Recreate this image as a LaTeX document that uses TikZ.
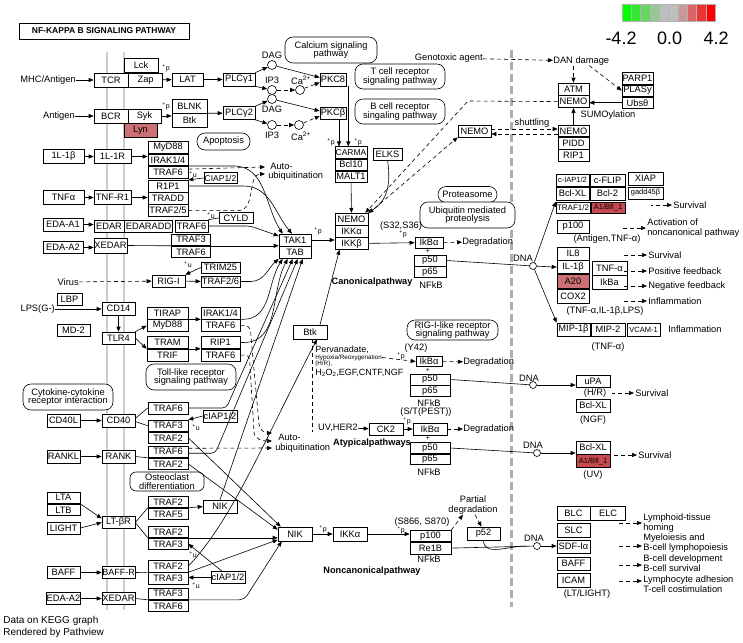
\documentclass[tikz,border=0pt]{standalone}
\usepackage{fontspec}
\setmainfont{Liberation Sans}
\usetikzlibrary{positioning, arrows.meta}

\definecolor{kred}{RGB}{205,112,117}
\definecolor{kredd}{RGB}{198,74,80}
\definecolor{memb}{RGB}{205,205,205}
\definecolor{lg0}{RGB}{0,255,0}
\definecolor{lg1}{RGB}{50,232,50}
\definecolor{lg2}{RGB}{100,214,100}
\definecolor{lg3}{RGB}{150,200,150}
\definecolor{lg4}{RGB}{190,190,190}
\definecolor{lg5}{RGB}{190,190,190}
\definecolor{lg6}{RGB}{205,150,150}
\definecolor{lg7}{RGB}{218,100,100}
\definecolor{lg8}{RGB}{236,50,50}
\definecolor{lg9}{RGB}{255,0,0}
\newcommand{\kfont}{\fontsize{9.3}{10}\selectfont}
\newcommand{\kpw}{\fontsize{9.3}{8.8}\selectfont}
\newcommand{\ksm}{\fontsize{7.5}{8}\selectfont}
\newcommand{\kmod}{\fontsize{7}{7}\selectfont}

\tikzset{
  gene/.style={draw, fill=white, inner sep=0pt, minimum width=40, minimum height=12, font=\kfont},
  redgene/.style={gene, fill=kred},
  pway/.style={draw, fill=white, rounded corners=8pt, align=center, inner sep=1pt, font=\kpw},
  cpd/.style={circle, draw, fill=white, inner sep=0pt, minimum size=9},
  lbl/.style={inner sep=0pt, font=\kfont},
  mod/.style={inner sep=0pt, font=\kmod},
  bold/.style={inner sep=0pt, font=\bfseries\fontsize{9.2}{10}\selectfont},
  dsh/.style={dash pattern=on 4pt off 3pt},
}

\begin{document}
\begin{tikzpicture}[x=1pt, y=-1pt, line width=0.6pt, >={Triangle[length=5pt,width=4pt]}]
\useasboundingbox (0,0) rectangle (743,642);
\draw[memb, line width=2pt] (107,52) -- (107,610) (124,52) -- (124,610);
\draw[memb!85!black, line width=3pt, dash pattern=on 8pt off 4pt] (511,50) -- (511,607);

\foreach \i in {0,...,9}
  \draw[fill=lg\i, draw=gray!60, line width=0.4pt] (622+9.3*\i,4) rectangle ++(9.3,17);
\node[inner sep=0pt, font=\fontsize{18}{18}\selectfont] (lmin) at (621,38) {-4.2};
\node[inner sep=0pt, font=\fontsize{18}{18}\selectfont] (lmid) at (669.5,38) {0.0};
\node[inner sep=0pt, font=\fontsize{18}{18}\selectfont] (lmax) at (716,38) {4.2};

\node[draw, line width=0.8pt, minimum width=170, minimum height=16, inner sep=0pt, font=\bfseries\fontsize{8.5}{10}\selectfont] (title) at (104,31) {NF-KAPPA B SIGNALING PATHWAY};

% T cell / B cell
\node[lbl, anchor=east] (mhc) at (76,80) {MHC/Antigen};
\node[gene, minimum width=34, minimum height=14] (tcr) at (111,80) {TCR};
\node[gene, minimum width=34, minimum height=14, right=0pt of tcr] (zap) {Zap};
\node[gene, minimum width=34, minimum height=14] (lck) at (141,65.5) {Lck};
\node[mod] (plck) at (166,68) {\textsuperscript{+}p};
\node[gene, minimum width=31, minimum height=13] (lat) at (187.5,79.5) {LAT};
\node[gene, minimum width=32, minimum height=13] (plcg1) at (239,79.5) {PLCγ1};
\node[lbl, anchor=east] (antigen) at (75,116) {Antigen};
\node[gene, minimum width=34, minimum height=14] (bcr) at (111,116) {BCR};
\node[gene, minimum width=33, minimum height=14] (syk) at (144.5,116) {Syk};
\node[redgene, minimum width=33, minimum height=14] (lyn) at (140.5,130) {Lyn};
\node[mod] (psyk) at (166,106) {\textsuperscript{+}p};
\node[gene, minimum width=35, minimum height=14] (blnk) at (189.5,106) {BLNK};
\node[gene, minimum width=35, minimum height=14, below=0pt of blnk] (btk) {Btk};
\node[gene, minimum width=32, minimum height=13] (plcg2) at (239,113) {PLCγ2};
\node[pway, minimum width=53, minimum height=17] (apop) at (223.5,141.5) {Apoptosis};

\node[cpd] (dag1) at (272,65) {};
\node[lbl] (dag1t) at (272,55) {DAG};
\node[cpd] (ip3a) at (272,90) {};
\node[lbl] (ip3at) at (272,80) {IP3};
\node[cpd] (ca1) at (300,90) {};
\node[lbl] (ca1t) at (301,80) {Ca\textsuperscript{2+}};
\node[cpd] (dag2) at (272,99) {};
\node[lbl] (dag2t) at (272,109) {DAG};
\node[cpd] (ip3b) at (272,125) {};
\node[lbl] (ip3bt) at (272,135) {IP3};
\node[cpd] (ca2) at (299,125) {};
\node[lbl] (ca2t) at (301,136) {Ca\textsuperscript{2+}};
\node[gene, minimum width=26, minimum height=13] (pkc8) at (333,79.5) {PKC8};
\node[gene, minimum width=26, minimum height=12] (pkcb) at (333,113) {PKCβ};
\node[pway, minimum width=92, minimum height=26] (calc) at (331,50) {Calcium signaling\\pathway};
\node[pway, minimum width=90, minimum height=25] (tcrp) at (400,76.5) {T cell receptor\\signaling pathway};
\node[pway, minimum width=90, minimum height=25] (bcrp) at (400,111.5) {B cell receptor\\singaling pathway};
\node[mod] (pca1) at (331,142) {\textsuperscript{+}p};
\node[mod] (pca2) at (358,142) {\textsuperscript{+}p};
\node[gene, minimum width=32, minimum height=11.5, font=\fontsize{8.5}{9}\selectfont] (carma) at (351,152.5) {CARMA};
\node[gene, minimum width=32, minimum height=11.5, below=0pt of carma] (bcl10) {Bcl10};
\node[gene, minimum width=32, minimum height=11.5, below=0pt of bcl10] (malt1) {MALT1};
\node[gene, minimum width=29, minimum height=12] (elks) at (387.5,154) {ELKS};
\node[gene, minimum width=33, minimum height=11.7] (nemo1) at (351.5,219) {NEMO};
\node[gene, minimum width=33, minimum height=11.7, below=0pt of nemo1] (ikka1) {IKKα};
\node[gene, minimum width=33, minimum height=11.7, below=0pt of ikka1] (ikkb1) {IKKβ};

% IL-1 / TNF / EDA
\node[gene, minimum width=41, minimum height=14] (il1b) at (63.5,156.5) {1L-1β};
\node[gene, minimum width=37, minimum height=14] (il1r) at (112.5,156.5) {1L-1R};
\node[gene, minimum height=11.7] (myd88a) at (168,147.5) {MyD88};
\node[gene, minimum height=11.7, below=0pt of myd88a] (irak1) {IRAK1/4};
\node[gene, minimum height=11.7, below=0pt of irak1] (traf6a) {TRAF6};
\node[gene, minimum width=33, minimum height=11, font=\fontsize{8.5}{9}\selectfont] (ciap1) at (220.5,178) {CIAP1/2};
\node[mod] (uciap1) at (193,175) {\textsuperscript{+}u};
\node[gene, minimum height=11.7] (r1p1) at (168,186) {R1P1};
\node[gene, minimum height=11.7, below=0pt of r1p1] (tradd) {TRADD};
\node[gene, minimum height=11.7, below=0pt of tradd] (traf25) {TRAF2/5};
\node[gene, minimum width=41, minimum height=14] (tnfa) at (63.5,197.5) {TNFα};
\node[gene, minimum width=37, minimum height=14] (tnfr1) at (112.5,197.5) {TNF-R1};
\node[gene, minimum width=40, minimum height=13] (eda1) at (63,224.5) {EDA-A1};
\node[gene, minimum width=30, minimum height=12] (edar) at (109,226) {EDAR};
\node[gene, minimum width=48, minimum height=12, right=0pt of edar] (edaradd) {EDARADD};
\node[gene, minimum width=33, minimum height=12] (traf6b) at (191.5,226) {TRAF6};
\node[gene, minimum width=34, minimum height=11] (cyld) at (236,218) {CYLD};
\node[mod] (ucyld) at (211,216) {\textsuperscript{+}u};
\node[gene, minimum width=40, minimum height=12] (eda2) at (63,247.5) {EDA-A2};
\node[gene, minimum width=33, minimum height=15] (xedar1) at (110.5,245.5) {XEDAR};
\node[gene, minimum width=39, minimum height=11.5] (traf3a) at (191,239.75) {TRAF3};
\node[gene, minimum width=39, minimum height=11.5, below=0pt of traf3a] (traf6c) {TRAF6};
\node[pway, minimum width=59, minimum height=16] (prot) at (467.5,194.5) {Proteasome};
\node[pway, minimum width=95, minimum height=26] (ubip) at (467.5,215) {Ubiquitin mediated\\proteolysis};
\node[lbl, anchor=west] (auto1) at (270,166) {Auto-};
\node[lbl, anchor=west] (ubi1) at (268,176.5) {ubiquitination};
\coordinate (au1) at (265,167);
\coordinate (au2) at (265,174);

% RIG-I / LPS
\node[gene, minimum width=39, minimum height=11] (trim25) at (220.5,267.5) {TRIM25};
\node[mod] (utrim) at (188,265) {\textsuperscript{+}u};
\node[gene, minimum width=33, minimum height=12] (rigi) at (168.5,281) {RIG-I};
\node[gene, minimum width=39, minimum height=11] (traf26) at (220.5,281.5) {TRAF2/6};
\node[lbl, anchor=east] (virus) at (79,282) {Virus};
\node[gene, minimum width=25, minimum height=12] (lbp) at (69.5,299) {LBP};
\node[lbl, anchor=east] (lps) at (55,309) {LPS(G-)};
\node[gene, minimum width=33, minimum height=12] (md2) at (73.5,330) {MD-2};
\node[gene, minimum width=33, minimum height=13] (cd14) at (118.5,308.5) {CD14};
\node[gene, minimum width=33, minimum height=12] (tlr4) at (118.5,338) {TLR4};
\node[gene, minimum width=41] (tirap) at (167.5,313) {TIRAP};
\node[gene, minimum width=41, below=0pt of tirap] (myd88b) {MyD88};
\node[gene, minimum width=41] (tram) at (167.5,342.5) {TRAM};
\node[gene, minimum width=41, below=0pt of tram] (trif) {TRIF};
\node[gene, minimum width=39] (irak2) at (220.5,313) {IRAK1/4};
\node[gene, minimum width=39, below=0pt of irak2] (traf6d) {TRAF6};
\node[gene, minimum width=39] (rip1a) at (220.5,342.5) {RIP1};
\node[gene, minimum width=39, below=0pt of rip1a] (traf6e) {TRAF6};
\node[pway, minimum width=90, minimum height=26] (tollp) at (191,377) {Toll-like receptor\\signaling pathway};
\node[pway, minimum width=90, minimum height=26] (cytop) at (68,397) {Cytokine-cytokine\\receptor interaction};

% CD40 / RANK / LT / BAFF / XEDAR
\node[gene, minimum width=33, minimum height=13] (cd40l) at (63.5,420.5) {CD40L};
\node[gene, minimum width=33, minimum height=13] (cd40) at (118.5,420.5) {CD40};
\node[gene] (traf6f) at (168,408) {TRAF6};
\node[gene, minimum height=11.5] (traf3b) at (168,425.75) {TRAF3};
\node[gene, minimum height=11.5, below=0pt of traf3b] (traf2a) {TRAF2};
\node[gene, minimum width=34, minimum height=12] (ciap2) at (220,416) {cIAP1/2};
\node[mod] (uciap2) at (196,428) {\textsuperscript{+}u};
\node[gene, minimum width=33, minimum height=13] (rankl) at (63.5,456.5) {RANKL};
\node[gene, minimum width=33, minimum height=13] (rank) at (118.5,456.5) {RANK};
\node[gene, minimum height=11.5] (traf6g) at (168,451.75) {TRAF6};
\node[gene, minimum height=11.5, below=0pt of traf6g] (traf2b) {TRAF2};
\node[pway, minimum width=74, minimum height=19, rounded corners=6pt] (osteo) at (167,481.5) {Osteoclast\\differentiation};
\node[gene, minimum width=33, minimum height=11.5] (lta) at (63.5,497.75) {LTA};
\node[gene, minimum width=33, minimum height=11.5, below=0pt of lta] (ltb) {LTB};
\node[gene, minimum width=33, minimum height=12] (light) at (63.5,528) {LIGHT};
\node[gene, minimum width=33, minimum height=12] (ltbr) at (118.5,522.5) {LT-βR};
\node[gene, minimum height=11.5] (traf2c) at (168,501.75) {TRAF2};
\node[gene, minimum height=11.5, below=0pt of traf2c] (traf5) {TRAF5};
\node[gene, minimum width=34, minimum height=13] (nik1) at (220,506.5) {NIK};
\node[gene, minimum height=11.5] (traf2d) at (168,531.75) {TRAF2};
\node[gene, minimum height=11.5, below=0pt of traf2d] (traf3c) {TRAF3};
\node[mod] (ultb) at (193,555) {\textsuperscript{+}u};
\node[gene, minimum width=33, minimum height=12] (baff1) at (63.5,572.5) {BAFF};
\node[gene, minimum width=33, minimum height=12, font=\fontsize{9}{10}\selectfont] (baffr) at (118.5,572.5) {BAFF-R};
\node[gene, minimum height=11.5] (traf2e) at (168,566.25) {TRAF2};
\node[gene, minimum height=11.5, below=0pt of traf2e] (traf3d) {TRAF3};
\node[gene, minimum width=34, minimum height=12] (ciap3) at (228,577.5) {cIAP1/2};
\node[mod] (ubaff) at (196,586) {\textsuperscript{+}u};
\node[gene, minimum width=33, minimum height=12] (eda3) at (63.5,598.5) {EDA-A2};
\node[gene, minimum width=33, minimum height=12] (xedar2) at (118.5,598.5) {XEDAR};
\node[gene, minimum height=11.5] (traf3e) at (168,593.75) {TRAF3};
\node[gene, minimum height=11.5, below=0pt of traf3e] (traf6h) {TRAF6};
\node[lbl, anchor=north west, align=left, font=\fontsize{10}{12}\selectfont] (note) at (3,616) {Data on KEGG graph\\Rendered by Pathview};
\node[lbl, anchor=west] (auto2) at (278,437) {Auto-};
\node[lbl, anchor=west] (ubi2) at (275,448) {ubiquitination};
\coordinate (au3) at (272,433);
\coordinate (au4) at (272,441);
\coordinate (au5) at (272,448);

% core
\node[gene, minimum width=32] (tak1) at (295,240) {TAK1};
\node[gene, minimum width=32, below=0pt of tak1] (tab) {TAB};
\node[mod] (ptak) at (318,231) {\textsuperscript{+}p};
\node[gene, minimum width=34, minimum height=14] (btk2) at (310,332) {Btk};
\node[lbl] (s32) at (401,226) {(S32,S36)};
\node[mod] (pikb) at (403,234) {\textsuperscript{+}p};
\node[gene, minimum width=28, minimum height=11] (ikba1) at (429,242.5) {IkBα};
\node[mod] (plus1) at (428,251.5) {+};
\node[gene, minimum width=32, minimum height=11] (p50a) at (430,260.5) {p50};
\node[gene, minimum width=32, minimum height=11, below=0pt of p50a] (p65a) {p65};
\node[lbl] (nfkb1) at (431,285) {NFkB};
\node[bold] (canon) at (372,282) {Canonicalpathway};
\node[lbl, anchor=west] (deg1) at (462,242) {Degradation};
\node[pway, minimum width=91, minimum height=20] (rigp) at (452.5,330) {RIG-I-like receptor\\signaling pathway};
\node[lbl, anchor=west, font=\fontsize{9}{10}\selectfont] (perv) at (315,350) {Pervanadate,};
\node[lbl, anchor=west, font=\fontsize{6.3}{7}\selectfont] (hypo) at (315,357.5) {Hypoxia/Reoxygenation};
\node[lbl, anchor=west, font=\fontsize{6.3}{7}\selectfont] (hr) at (315,364) {(H/R),};
\node[lbl, anchor=west, font=\fontsize{9}{10}\selectfont] (h2o2) at (315,373) {H\textsubscript{2}O\textsubscript{2},EGF,CNTF,NGF};
\node[lbl] (y42) at (416,348) {(Y42)};
\node[mod] (pikb2) at (401,356) {\textsuperscript{+}p};
\node[gene, minimum width=26, minimum height=10] (ikba2) at (429,361.5) {IkBα};
\node[mod] (plus2) at (428,370.5) {+};
\node[gene, minimum height=11] (p50b) at (430,379.5) {p50};
\node[gene, minimum height=11, below=0pt of p50b] (p65b) {p65};
\node[lbl] (nfkb2) at (429,403) {NFkB};
\node[lbl] (pest) at (426,412) {(S/T(PEST))};
\node[lbl, anchor=west] (deg2) at (463,362) {Degradation};
\node[lbl, anchor=east] (uv) at (358,428) {UV,HER2};
\node[gene, minimum width=34, minimum height=12] (ck2) at (386,429) {CK2};
\node[mod] (pck2) at (407,421) {\textsuperscript{+}p};
\node[gene, minimum width=34, minimum height=12] (ikba3) at (430,429) {IkBα};
\node[mod] (plus3) at (428,438.5) {+};
\node[gene, minimum height=10.5] (p50c) at (430,448) {p50};
\node[gene, minimum height=10.5, below=0pt of p50c] (p65c) {p65};
\node[lbl] (nfkb3) at (429,472) {NFkB};
\node[bold] (atyp) at (372,443) {Atypicalpathways};
\node[lbl, anchor=west] (deg3) at (463,429) {Degradation};
\node[gene, minimum width=34, minimum height=14] (nik2) at (295,534) {NIK};
\node[mod] (pnik) at (323,529) {\textsuperscript{+}p};
\node[gene, minimum width=34, minimum height=14] (ikka2) at (350,534) {IKKα};
\node[lbl] (s866) at (422,522) {(S866,\ S870)};
\node[mod] (pp100) at (401,530) {\textsuperscript{+}p};
\node[gene, minimum width=41, minimum height=11.5] (p100) at (430.5,536) {p100};
\node[gene, minimum width=41, minimum height=11.5, below=0pt of p100] (relb) {Re1B};
\node[lbl] (nfkb4) at (429,559) {NFkB};
\node[bold] (nonc) at (372,571) {Noncanonicalpathway};
\node[lbl, align=center, font=\fontsize{9.3}{10}\selectfont] (pdeg) at (473,505) {Partial\\degradation};
\node[gene, minimum width=33, minimum height=13] (p52) at (483.5,533.5) {p52};

% nucleus side
\node[lbl, anchor=east] (geno) at (483,58) {Genotoxic agent};
\node[lbl, anchor=west] (dan) at (553,61) {DAN damage};
\node[gene, minimum width=31, minimum height=12] (atm) at (573.5,89) {ATM};
\node[gene, minimum width=31, minimum height=12, below=0pt of atm] (nemo3) {NEMO};
\node[gene, minimum width=31, minimum height=11.5] (parp1) at (637.5,78.5) {PARP1};
\node[gene, minimum width=31, minimum height=11.5, below=0pt of parp1] (plasy) {PLASy};
\node[gene, minimum width=31, minimum height=11.5, below=0pt of plasy] (ubs) {Ubsθ};
\node[lbl] (sumo) at (608,115) {SUMOylation};
\node[gene, minimum width=33, minimum height=12] (nemo2) at (474.5,131) {NEMO};
\node[lbl] (shut) at (532,123) {shuttling};
\node[gene, minimum width=31, minimum height=11.5] (nemo4) at (573.5,131) {NEMO};
\node[gene, minimum width=31, minimum height=11.5, below=0pt of nemo4] (pidd) {PIDD};
\node[gene, minimum width=31, minimum height=11.5, below=0pt of pidd] (rip1b) {RIP1};
\node[gene, minimum width=33, minimum height=12, font=\ksm] (ciap4) at (572.5,180) {c-IAP1/2};
\node[gene, minimum width=35, minimum height=12] (cflip) at (607.5,180) {c-FLIP};
\node[gene, minimum width=35, minimum height=13] (xiap) at (645.5,178.5) {XIAP};
\node[gene, minimum width=33, minimum height=13] (bclxl1) at (572.5,193.5) {Bcl-XL};
\node[gene, minimum width=35, minimum height=13] (bcl2) at (607.5,193.5) {Bcl-2};
\node[gene, minimum width=35, minimum height=12, font=\ksm] (gadd) at (645.5,193) {gadd45β};
\node[gene, minimum width=34, minimum height=11, font=\fontsize{8}{9}\selectfont] (traf12) at (573,207.5) {TRAF1/2};
\node[gene, minimum width=34, minimum height=11, fill=kredd, font=\ksm] (a1a) at (608,207.5) {A1/Bfl\_1};
\node[lbl, anchor=west] (surv1) at (673,205) {Survival};
\node[gene, minimum width=32, minimum height=13] (p100b) at (573,226.5) {p100};
\node[lbl] (antig) at (607,239) {(Antigen,TNF-α)};
\node[lbl, anchor=west, align=left] (act) at (647,228) {Activation of\\noncanonical pathway};
\node[lbl] (dna1t) at (523,258) {DNA};
\node[cpd, minimum size=7] (dna1) at (533,266) {};
\node[gene, minimum width=32, minimum height=13] (il8) at (573,253.5) {IL8};
\node[gene, minimum width=32, minimum height=13, below=0pt of il8] (il1b2) {IL-1β};
\node[redgene, minimum width=32, minimum height=14, below=0pt of il1b2] (a20) {A20};
\node[gene, minimum width=32, minimum height=14, below=0pt of a20] (cox2) {COX2};
\node[gene, minimum width=35, minimum height=14] (tnfa2) at (609.5,268) {TNF-α};
\node[gene, minimum width=35, minimum height=14, below=0pt of tnfa2] (ikba4) {IkBa};
\node[lbl, anchor=west] (surv1b) at (648,255) {Survival};
\node[lbl, anchor=west] (posf) at (648,271) {Positive feedback};
\node[lbl, anchor=west] (negf) at (648,286) {Negative feedback};
\node[lbl, anchor=west] (infl1) at (648,301) {Inflammation};
\node[lbl] (tilps) at (605,311) {(TNF-α,IL-1β,LPS)};
\node[gene, minimum width=33, minimum height=13] (mip1b) at (573.5,329.5) {MIP-1β};
\node[gene, minimum width=34, minimum height=13] (mip2) at (608,329.5) {MIP-2};
\node[gene, minimum width=33, minimum height=13, font=\ksm] (vcam) at (643.5,329.5) {VCAM-1};
\node[lbl, anchor=west] (infl2) at (668,329) {Inflammation};
\node[lbl] (tnft) at (608,347) {(TNF-α)};
\node[lbl] (dna2t) at (529,378) {DNA};
\node[cpd, minimum size=7] (dna2) at (533,385) {};
\node[gene, minimum width=34, minimum height=12] (upa) at (593,381) {uPA};
\node[lbl] (hrt) at (595,393) {(H/R)};
\node[lbl, anchor=west] (surv2) at (635,393) {Survival};
\node[gene, minimum width=34, minimum height=13] (bclxl2) at (593,405.5) {Bcl-XL};
\node[lbl] (ngf) at (593,420) {(NGF)};
\node[lbl] (dna3t) at (533,445) {DNA};
\node[cpd, minimum size=7] (dna3) at (537,453) {};
\node[gene, minimum width=34, minimum height=13] (bclxl3) at (593,447.5) {Bcl-XL};
\node[gene, minimum width=34, minimum height=13, fill=kredd, font=\ksm, below=0pt of bclxl3] (a1b) {A1/Bfl\_1};
\node[lbl] (uvt) at (593,475) {(UV)};
\node[lbl, anchor=west] (surv3) at (638,455) {Survival};
\node[gene, minimum width=33, minimum height=14] (blc) at (573.5,513) {BLC};
\node[gene, minimum width=35, minimum height=14, right=0pt of blc] (elc) {ELC};
\node[gene, minimum width=33, minimum height=14] (slc) at (573.5,530) {SLC};
\node[gene, minimum width=33, minimum height=13] (sdf) at (573.5,546.5) {SDF-Iα};
\node[gene, minimum width=33, minimum height=13] (baff2) at (573.5,563.5) {BAFF};
\node[gene, minimum width=33, minimum height=14] (icam) at (573.5,580) {ICAM};
\node[lbl] (ltl) at (587,594) {(LT/LIGHT)};
\node[lbl] (dna4t) at (534,538) {DNA};
\node[cpd, minimum size=7] (dna4) at (537,546) {};
\node[lbl, anchor=west, align=left] (lym) at (643,523) {Lymphoid-tissue\\homing};
\node[lbl, anchor=west, align=left] (mye) at (643,543) {Myeloiesis and\\B-cell lymphopoiesis};
\node[lbl, anchor=west, align=left] (bdev) at (643,563) {B-cell development\\B-cell survival};
\node[lbl, anchor=west, align=left] (ladh) at (643,584) {Lymphocyte adhesion\\T-cell costimulation};

% connectors: receptors
\draw[->] (mhc) -- (tcr);
\draw[->] (zap) -- (lat);
\draw[->] (lat) -- (plcg1);
\draw[->] (plcg1.north east) -- (dag1);
\draw[->] (plcg1.south east) -- (ip3a);
\draw[->] (dag1) -- ([yshift=2]pkc8.west);
\draw[dsh,->] (ip3a) -- (ca1);
\draw[dsh,->] (ca1) -- ([yshift=-3]pkc8.west);
\draw[->] (antigen) -- (bcr);
\draw[->] (syk.east) -- (syk.east -| blnk.west);
\draw[->] (blnk.south east) -- (plcg2);
\draw[->] (plcg2.north east) -- (dag2);
\draw[->] (plcg2.south east) -- (ip3b);
\draw[->] (dag2) -- ([yshift=2]pkcb.west);
\draw[dsh,->] (ip3b) -- (ca2);
\draw[dsh,->] (ca2) -- ([yshift=-3]pkcb.west);
\draw[->] ([xshift=2]pkc8.south east) -- ([xshift=2]pkc8.south east |- carma.north);
\draw[->] ([xshift=6]pkcb.south) -- ([xshift=6]pkcb.south |- carma.north);
\draw[->] (malt1) -- (nemo1);
\draw[->] (elks.south) .. controls (393,195) and (380,205) .. (nemo1.north east);
\draw[->] (il1b) -- (il1r);
\draw[->] (il1r.east) -- (il1r.east -| irak1.west);
\draw[->] (tnfa) -- (tnfr1);
\draw[->] (tnfr1.east) -- (tnfr1.east -| tradd.west);
\draw[->] (eda1.east) -- (eda1.east -| edar.west);
\draw[->] (eda2.east) -- (eda2.east -| xedar1.west);
\draw (xedar1.east) -- (traf3a.south west);
\draw[->] (traf3a.south east) -- (traf3a.south east -| tak1.west);
\draw[->, rounded corners=4pt] (traf6b.east) -- ++(42,0) -- ([yshift=4]tak1.west);
\draw (cyld.west) -- (traf6b.north east);
\draw[->] (ciap1.west) -- (r1p1.north east);
\draw[->] (irak1.south east) -- ++(45,0) to[out=0,in=123] ([xshift=4]tak1.north west);
\draw[->] (r1p1.east) -- ++(55,0) to[out=0,in=130] ([xshift=-3]tak1.north);
\draw[dsh,->] ([yshift=3]traf6a.east) -- (au1);
\draw[dsh,->] (traf25.east) -- ++(50,0) to[out=0,in=180] (au2);
\draw[->] (trim25.west) -- (rigi.north east);
\draw[dsh,->] (virus) -- (rigi);
\draw[->] (rigi) -- (traf26);
\draw[->] (traf26.east) -- ++(10,0) to[out=0,in=221] (tab.south west);
\draw[->] (lps.east) -- (lps.east -| cd14.west);
\draw[->] (cd14) -- (tlr4);
\draw[->] (tlr4.north east) -- (myd88b.west);
\draw[->] (tlr4.east) -- (tram.south west);
\draw[->] (tirap.south east) -- (irak2.south west);
\draw[->] (tram.south east) -- (rip1a.south west);
\draw[->] (irak2.south east) -- ++(3,0) to[out=0,in=237] ([xshift=4]tab.south west);
\draw[->] (rip1a.east) -- ++(3,0) to[out=0,in=242] ([xshift=9]tab.south west);
\draw[dsh,->] (traf6d.east) -- ++(5,0) to[out=0,in=90] (251,337) -- (259,424) to[out=-90,in=180] (au3);
\draw[dsh,->] (traf6e.east) -- ++(5,0) to[out=0,in=90] (250,366) -- (254,432) to[out=-90,in=180] (au4);

% CD40 .. XEDAR
\draw[->] (cd40l) -- (cd40);
\draw ([yshift=2]cd40.east) -- (traf6f.west);
\draw ([yshift=-1]cd40.east) -- (traf3b.west);
\draw[->] (ciap2.west) -- (traf3b.north east);
\draw[->, rounded corners=4pt] (traf6f.east) -- ++(38,0) -- ([xshift=14]tab.south west);
\draw[->] (traf2a.east) -- ([xshift=3]nik2.north west);
\draw[->] (rankl) -- (rank);
\draw (rank.east) -- (traf6g.south west);
\draw[->, rounded corners=4pt] ([yshift=-1.5]traf6g.east) -- ++(27,0) -- ([xshift=19]tab.south west);
\draw[dsh,->] ([yshift=3.5]traf6g.east) -- (au5);
\draw[->] (traf2b.east) -- ([yshift=-3]nik2.north west);
\draw[->] (lta.south east) -- ([yshift=4]ltbr.west);
\draw[->] (light.east) -- (ltbr.west);
\draw (ltbr.east) -- (traf2c.south west);
\draw (ltbr.east) -- (traf2d.south west);
\draw[->] (traf2c.south east) -- (nik1.west);
\draw[->] (nik1.north) -- ([xshift=24]tab.south west);
\draw[->] (traf2d.south east) -- (traf2d.south east -| nik2.west);
\draw[->] (baff1) -- (baffr);
\draw (baffr.east) -- (traf2e.south west);
\draw[->] (traf2e.south east) -- ([yshift=1.5]nik2.south west);
\draw[->] (traf2e.east) .. controls (232,520) and (262,445) .. ([xshift=7]btk2.south);
\draw[->] ([xshift=10]btk2.north) -- ([xshift=-12]ikkb1.south);
\draw[->] (ciap3.west) -- (ciap3.west -| traf3d.east);
\draw[->] ([xshift=-6]ciap3.north) -- (traf3c.east);
\draw[->] (eda3) -- (xedar2);
\draw (xedar2.east) -- (traf3e.south west);
\draw[->, rounded corners=5pt] (traf3e.south east) -- ++(56,0) -- ([xshift=4]nik2.south west);

% core connectors
\draw[->] (tak1.east) -- (tak1.east -| ikkb1.west);
\draw[->] (ikkb1) -- (ikba1);
\draw[dsh,->] (ikba1) -- (deg1);
\draw (p50a.east) -- (dna1);
\draw[dsh,->] (nemo3.west) -- (468,101) -- ([xshift=-3]nemo1.north east);
\draw[dsh,->] ([xshift=1]nemo1.north east) -- (nemo2.south west);
\draw[dsh,->] ([yshift=2]nemo2.east) -- ([yshift=2]nemo4.west);
\draw[dsh,->] ([yshift=-3]nemo4.west) -- ([yshift=-3]nemo2.east);
\draw[dsh] ([xshift=2]btk2.south) -- ([xshift=2]btk2.south |- uv.south);
\draw[dsh,->] (hypo.east) -- (ikba2.west);
\draw[dsh,->] (ikba2) -- (deg2);
\draw (p50b.east) -- (dna2);
\draw[->] (uv) -- (ck2);
\draw[->] (ck2) -- (ikba3);
\draw[dsh,->] (ikba3) -- (deg3);
\draw (p50c.east) -- (dna3);
\draw[->] (nik2) -- (ikka2);
\draw[->] (ikka2.east) -- (ikka2.east -| p100.west);
\draw[dsh,->] (p100.north east) -- ([xshift=-10]pdeg.south);
\draw[dsh,->] ([xshift=2]pdeg.south) -- ([xshift=-2]p52.north);
\draw (relb.east) -- (dna4);
\draw (p52.south) to[out=-90,in=180] ([xshift=-8]dna4.west);

% nucleus connectors
\draw[dsh,->] (geno) -- (dan);
\draw[dsh,->] (dan.south -| atm.north) -- (atm.north);
\draw[dsh,->] ([xshift=8]dan.south) -- (plasy.west);
\draw[->] (ubs.west) -- (ubs.west -| nemo3.east);
\draw[->] (nemo4) -- (nemo3);
\draw[->] (dna1) -- (il1b2.west);
\draw[->] (dna1) -- (traf12.north west);
\draw[->] (dna1) -- (mip1b.north west);
\draw[->] (dna2) -- (dna2 -| upa.west);
\draw[->] (dna3) -- (dna3 -| bclxl3.west);
\draw[->] (dna4) -- (dna4 -| sdf.west);
\foreach \t in {surv1b, posf, negf, infl1}
  \draw[dsh,<-, shorten <=1pt] (\t.west) -- ++(-24,0);
\draw[dsh,<-, shorten <=1pt] (surv1.west) -- ++(-22,0);
\draw[dsh,<-, shorten <=1pt] (act.west) -- ++(-24,0);
\draw[dsh,<-, shorten <=1pt] (surv2.west) -- ++(-23,0);
\draw[dsh,<-, shorten <=1pt] (surv3.west) -- ++(-24,0);
\draw[dsh,<-, shorten <=1pt] (lym.west) -- ++(-25,0);
\draw[dsh,<-, shorten <=1pt] ([yshift=-3]mye.west) -- ++(-25,0);
\draw[dsh,<-, shorten <=1pt] ([yshift=-2]bdev.west) -- ++(-25,0);
\draw[dsh,<-, shorten <=1pt] ([yshift=3]ladh.west) -- ++(-25,0);
\end{tikzpicture}
\end{document}
